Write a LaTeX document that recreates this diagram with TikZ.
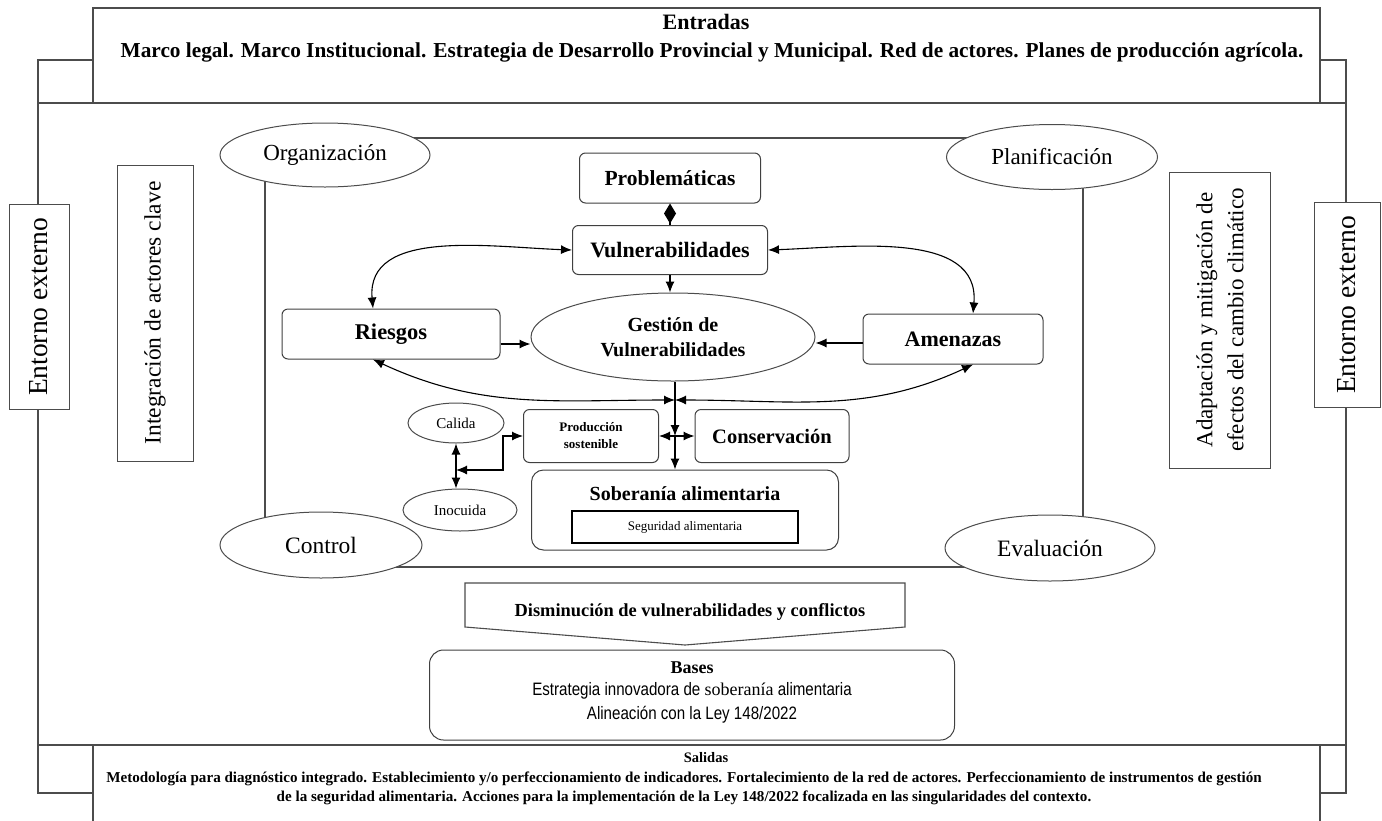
\documentclass[tikz,border=0pt]{standalone}
\usepackage{fontspec}
\setmainfont{Liberation Serif}
\newfontfamily\narrowsans[FakeStretch=0.84]{Liberation Sans}
\usetikzlibrary{positioning, arrows.meta, shapes.geometric}
\newcommand{\txtsize}[2]{\fontsize{#1}{#2}\selectfont}

\begin{document}
\begin{tikzpicture}[
        x=1pt, y=1pt,
        frame/.style={draw=black!70, line width=1.1pt},
        block/.style={rectangle, draw=black!75, line width=1pt, rounded corners=6pt, align=center, inner sep=0pt, fill=white},
        oval/.style={ellipse, draw=black!70, line width=1pt, align=center, inner sep=0pt, fill=white},
        sidebar/.style={rectangle, draw=black!70, line width=1pt, rotate=90, align=center, inner sep=0pt, fill=white},
        arrow/.style={-{Latex[length=11pt,width=9pt]}, line width=1.1pt},
        biarrow/.style={{Latex[length=11pt,width=9pt]}-{Latex[length=11pt,width=9pt]}, line width=1.1pt}
    ]
        \useasboundingbox (0,0) rectangle (1382,-820);

        \draw[frame] (93,-60) -- (38,-60) -- (38,-793) -- (93,-793);
        \draw[frame] (1320,-60) -- (1346,-60) -- (1346,-793) -- (1320,-793);
        \draw[frame] (38,-103) -- (1346,-103);
        \draw[frame] (38,-745) -- (1346,-745);
        \draw[frame] (265,-138) rectangle (1083,-567);

        \node[frame, minimum width=1227, minimum height=95] (entradas) at (706.5,-55.5) {};
        \node[font=\bfseries\txtsize{22}{26}] (entradasTit) at (706,-22) {Entradas};
        \node[font=\bfseries\txtsize{21.3}{25}] (entradasTxt) at (712,-52) {Marco legal. Marco Institucional. Estrategia de Desarrollo Provincial y Municipal. Red de actores. Planes de producción agrícola.};

        \node[frame, minimum width=1227, minimum height=100] (salidas) at (706.5,-795) {};
        \node[font=\bfseries\txtsize{14.5}{17}] (salidasTit) at (706,-758) {Salidas};
        \node[font=\bfseries\txtsize{15.1}{19}, align=center] (salidasTxt) at (684,-788) {Metodología para diagnóstico integrado. Establecimiento y/o perfeccionamiento de indicadores. Fortalecimiento de la red de actores. Perfeccionamiento de instrumentos de gestión\\de la seguridad alimentaria. Acciones para la implementación de la Ley 148/2022 focalizada en las singularidades del contexto.};

        \node[sidebar, minimum width=205, minimum height=60, font=\txtsize{27.5}{30}] (entIzq) at (39,-307) {Entorno externo};
        \node[sidebar, minimum width=296, minimum height=76, font=\txtsize{23.5}{28}] (integracion) at (155,-313) {Integración de actores clave};
        \node[sidebar, minimum width=296, minimum height=101, font=\txtsize{23}{31}] (adaptacion) at (1220,-320) {Adaptación y mitigación de\\efectos del cambio climático};
        \node[sidebar, minimum width=205, minimum height=66, font=\txtsize{27.5}{30}] (entDer) at (1347,-305) {Entorno externo};

        \node[oval, minimum width=210, minimum height=64, font=\txtsize{23}{27}] (organizacion) at (325,-155) {Organización};
        \node[oval, minimum width=211, minimum height=65, font=\txtsize{23}{27}] (planificacion) at (1052,-157) {Planificación};
        \node[oval, minimum width=202, minimum height=66, font=\txtsize{23.5}{27}] (control) at (321,-545) {Control};
        \node[oval, minimum width=210, minimum height=66, font=\txtsize{23.5}{27}] (evaluacion) at (1050,-548) {Evaluación};

        \node[block, minimum width=181, minimum height=50, font=\bfseries\txtsize{21.5}{25}] (problematicas) at (670,-178) {Problemáticas};
        \node[block, minimum width=195, minimum height=49, font=\bfseries\txtsize{22}{26}] (vulnerab) at (670,-250) {Vulnerabilidades};
        \node[oval, minimum width=284, minimum height=88, font=\bfseries\txtsize{20}{25}] (gestion) at (673,-337) {Gestión de\\Vulnerabilidades};
        \node[block, minimum width=218, minimum height=50, font=\bfseries\txtsize{22.5}{26}] (riesgos) at (391,-334) {Riesgos};
        \node[block, minimum width=180, minimum height=50, font=\bfseries\txtsize{22}{26}] (amenazas) at (953,-339) {Amenazas};
        \node[block, minimum width=135, minimum height=53, font=\bfseries\txtsize{13}{17}] (produccion) at (591,-436) {Producción\\sostenible};
        \node[block, minimum width=154, minimum height=53, font=\bfseries\txtsize{20.5}{24}] (conservacion) at (772,-436) {Conservación};
        \node[block, rounded corners=12pt, minimum width=307, minimum height=80] (soberania) at (685,-510) {};
        \node[font=\bfseries\txtsize{20}{24}] (soberaniaTit) at (685,-494) {Soberanía alimentaria};
        \node[draw, line width=2.6pt, minimum width=226, minimum height=32, font=\txtsize{13}{15}] (seguridad) at (685,-527) {Seguridad alimentaria};
        \node[oval, minimum width=96, minimum height=40, font=\txtsize{15}{18}] (calida) at (456,-423) {Calida};
        \node[oval, minimum width=114, minimum height=42, font=\txtsize{15}{18}] (inocuida) at (460,-510) {Inocuida};

        \draw[frame] (465,-583) -- (905,-583) -- (905,-627) -- (685,-645) -- (465,-627) -- cycle;
        \node[font=\bfseries\txtsize{18.4}{21}] (disminucion) at (690,-612) {Disminución de vulnerabilidades y conflictos};

        \node[block, rounded corners=14pt, minimum width=525, minimum height=90] (bases) at (692,-695) {};
        \node[font=\bfseries\txtsize{18}{21}] (basesTit) at (692,-668) {Bases};
        \node[font=\narrowsans\txtsize{18}{21}] (basesUno) at (692,-691) {Estrategia innovadora de {\rmfamily soberanía} alimentaria};
        \node[font=\narrowsans\txtsize{18}{21}] (basesDos) at (692,-715) {Alineación con la Ley 148/2022};

        \coordinate (cruce) at (675,-400);
        \coordinate (nudo) at (675,-436);
        \coordinate (ci) at (456,-470);

        \draw[-{Diamond[length=20pt,width=12pt]}, line width=1.1pt] (vulnerab) -- (problematicas);
        \draw[arrow] (vulnerab) -- (vulnerab.south |- gestion.north);
        \draw[arrow] ([yshift=-10pt]riesgos.east) -- ([yshift=-10pt]riesgos.east -| gestion.west);
        \draw[arrow] ([yshift=-4pt]amenazas.west) -- ([yshift=-4pt]amenazas.west -| gestion.east);
        \draw[biarrow] (vulnerab.west) to[out=178, in=95] ([xshift=-18pt]riesgos.north);
        \draw[biarrow] (vulnerab.east) to[out=2, in=85] ([xshift=20pt]amenazas.north);
        \draw[biarrow] ([xshift=-18pt]riesgos.south) to[out=-25, in=180] (cruce);
        \draw[biarrow] ([xshift=20pt]amenazas.south) to[out=-155, in=0] (cruce);
        \draw[arrow] (gestion.south -| nudo) -- (nudo);
        \draw[arrow] (nudo) -- (nudo |- soberania.north);
        \draw[biarrow] (produccion) -- (conservacion);
        \draw[biarrow] (calida.south) -- (calida.south |- inocuida.north);
        \draw[biarrow] (ci) -- ++(47,0) |- (produccion.west);
    \end{tikzpicture}
\end{document}
